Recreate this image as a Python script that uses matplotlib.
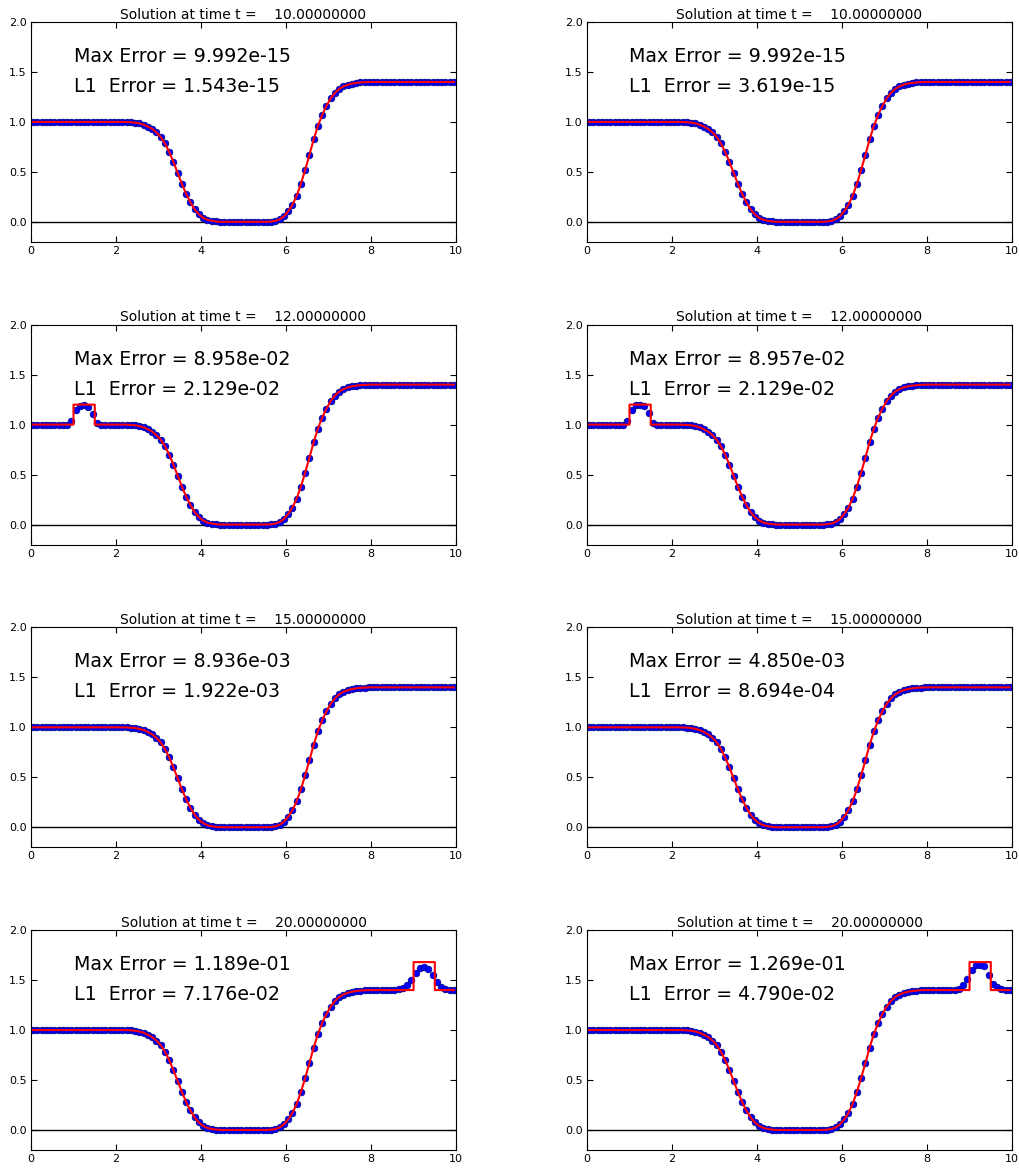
import numpy as np
import matplotlib
matplotlib.use("Agg")
import matplotlib.pyplot as plt


# -------------------------------------------------
# Data (cell centres, dx = 0.1)
# -------------------------------------------------

X_CELLS = np.linspace(0.05, 9.95, 100)

BASE_PROFILE = (
    [1.0] * 22
    + [0.999, 0.997, 0.993, 0.985, 0.972, 0.953, 0.93, 0.895, 0.85, 0.785,
       0.70, 0.60, 0.49, 0.38, 0.28, 0.195, 0.125, 0.075, 0.04, 0.02,
       0.01, 0.004]
    + [0.0] * 12
    + [0.003, 0.01, 0.025, 0.055, 0.105, 0.17, 0.26, 0.38, 0.52, 0.67,
       0.825, 0.96, 1.07, 1.16, 1.235, 1.29, 1.33, 1.355, 1.372, 1.383,
       1.39, 1.395, 1.398]
    + [1.4] * 21
)

TIMES = [10.0, 12.0, 15.0, 20.0]

MAX_ERR_LEFT = ["9.992e-15", "8.958e-02", "8.936e-03", "1.189e-01"]
L1_ERR_LEFT = ["1.543e-15", "2.129e-02", "1.922e-03", "7.176e-02"]
MAX_ERR_RIGHT = ["9.992e-15", "8.957e-02", "4.850e-03", "1.269e-01"]
L1_ERR_RIGHT = ["3.619e-15", "2.129e-02", "8.694e-04", "4.790e-02"]

# exact square bump: (left edge, right edge, level below, level on top)
BUMP_T12 = (1.0, 1.5, 1.0, 1.2)
BUMP_T20 = (9.0, 9.5, 1.4, 1.68)

# numerical values around the bump: (first cell centre, values)
DOTS_T12_LEFT = (0.95, [1.04, 1.15, 1.19, 1.20, 1.18, 1.11, 1.02])
DOTS_T12_RIGHT = (0.95, [1.04, 1.15, 1.20, 1.20, 1.19, 1.12, 1.02])
DOTS_T20_LEFT = (8.65, [1.41, 1.42, 1.45, 1.50, 1.57, 1.62, 1.63, 1.61,
                        1.55, 1.48, 1.43, 1.41])
DOTS_T20_RIGHT = (8.75, [1.41, 1.45, 1.51, 1.60, 1.65, 1.65, 1.64, 1.55,
                         1.46, 1.43, 1.41])

BUMPS = [None, BUMP_T12, None, BUMP_T20]
DOTS_LEFT = [None, DOTS_T12_LEFT, None, DOTS_T20_LEFT]
DOTS_RIGHT = [None, DOTS_T12_RIGHT, None, DOTS_T20_RIGHT]


# -------------------------------------------------
# Helpers
# -------------------------------------------------

def exact_line(bump):

    x = list(X_CELLS)
    y = list(BASE_PROFILE)

    if bump is None:
        return x, y

    x0, x1, lo, hi = bump

    xs, ys = [], []
    for xi, yi in zip(x, y):
        if xi < x0:
            xs.append(xi)
            ys.append(yi)
    xs += [x0, x0]
    ys += [lo, hi]
    for xi in x:
        if x0 < xi < x1:
            xs.append(xi)
            ys.append(hi)
    xs += [x1, x1]
    ys += [hi, lo]
    for xi, yi in zip(x, y):
        if xi > x1:
            xs.append(xi)
            ys.append(yi)

    return xs, ys


def numerical_dots(dots):

    y = np.array(BASE_PROFILE, dtype=float)

    if dots is None:
        return y

    start, vals = dots
    i0 = int(round((start - 0.05) / 0.1))
    y[i0:i0 + len(vals)] = vals

    return y


def draw_panel(ax, t, bump, dots, max_err, l1_err):

    ax.axhline(0.0, color="black", lw=1.0, zorder=1)

    ax.plot(
        X_CELLS,
        numerical_dots(dots),
        "o",
        color="#0000ff",
        markeredgecolor="#000080",
        markeredgewidth=0.5,
        markersize=4.8,
        zorder=2
    )

    xs, ys = exact_line(bump)
    ax.plot(xs, ys, color="red", lw=1.5, zorder=3)

    ax.set_xlim(0, 10)
    ax.set_ylim(-0.2, 2.0)
    ax.set_xticks([0, 2, 4, 6, 8, 10])
    ax.set_yticks([0.0, 0.5, 1.0, 1.5, 2.0])
    ax.set_yticklabels(["0.0", "0.5", "1.0", "1.5", "2.0"])

    ax.tick_params(
        direction="in",
        top=True,
        right=True,
        length=4,
        width=0.8,
        labelsize=8,
        pad=3
    )

    ax.set_title(
        "Solution at time t =    %.8f" % t,
        fontsize=10,
        pad=2.5
    )

    ax.text(1.0, 1.6, "Max Error = " + max_err, fontsize=13.7)
    ax.text(1.0, 1.3, "L1  Error = " + l1_err, fontsize=13.7)


# -------------------------------------------------
# Figure
# -------------------------------------------------

fig, axes = plt.subplots(4, 2, figsize=(10.2, 11.69), dpi=100)

plt.subplots_adjust(
    left=0.0304,
    right=0.9922,
    top=0.9812,
    bottom=0.0163,
    wspace=0.308,
    hspace=0.377
)

for row in range(4):

    draw_panel(
        axes[row, 0],
        TIMES[row],
        BUMPS[row],
        DOTS_LEFT[row],
        MAX_ERR_LEFT[row],
        L1_ERR_LEFT[row]
    )

    draw_panel(
        axes[row, 1],
        TIMES[row],
        BUMPS[row],
        DOTS_RIGHT[row],
        MAX_ERR_RIGHT[row],
        L1_ERR_RIGHT[row]
    )

plt.savefig("out.png", dpi=100)

plt.close()
